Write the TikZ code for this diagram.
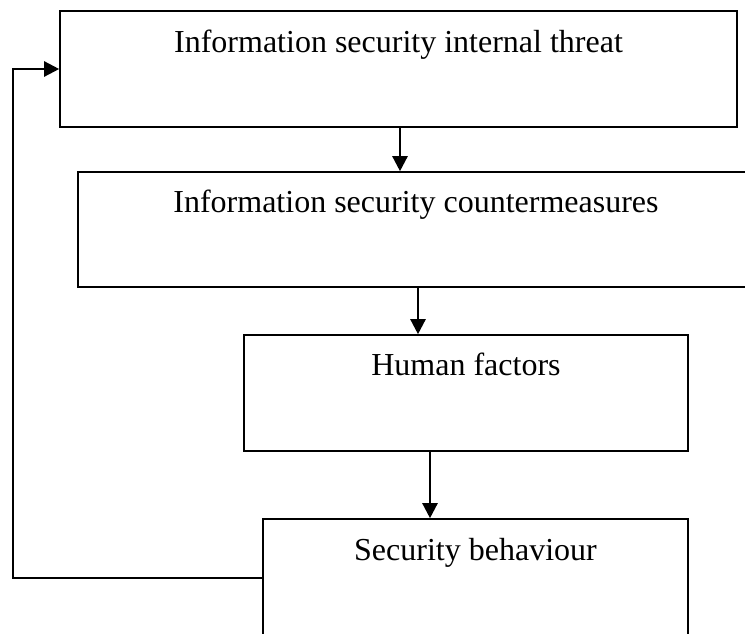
\documentclass[tikz,border=0pt]{standalone}
\usepackage{fontspec}
\setmainfont{Liberation Serif}
\usetikzlibrary{arrows.meta}
\begin{document}
\begin{tikzpicture}[x=1pt,y=-1pt,
  box/.style={draw=black,line width=1.6pt,rectangle,inner sep=0pt,
    text height=41pt,text depth=75pt,font=\fontsize{32}{38}\selectfont},
  arr/.style={line width=2.4pt,-{Triangle[length=15pt,width=15pt]}}]
\useasboundingbox (0,0) rectangle (745,633);
\clip (0,0) rectangle (745,633);
\fill[white] (0,0) rectangle (745,633);
\node[box,minimum width=677pt,minimum height=116pt] (b1) at (398.5,69) {Information security internal threat};
\node[box,minimum width=676pt,minimum height=115pt,text height=40pt] (b2) at (416,229.5) {Information security countermeasures};
\node[box,minimum width=444pt,minimum height=116pt,text height=40pt,text depth=76pt] (b3) at (466,393) {Human factors};
\node[box,minimum width=425pt,minimum height=121pt,text depth=80pt] (b4) at (475.5,579.5) {Security behaviour};
\coordinate (fb) at (13,578);
\draw[arr] (b1.south -| 400,0) -- (b2.north -| 400,0);
\draw[arr] (b2.south -| 418,0) -- (b3.north -| 418,0);
\draw[arr] (b3.south -| 430,0) -- (b4.north -| 430,0);
\draw[arr] (b4.west |- fb) -- (fb) |- (b1.west);
\end{tikzpicture}
\end{document}
